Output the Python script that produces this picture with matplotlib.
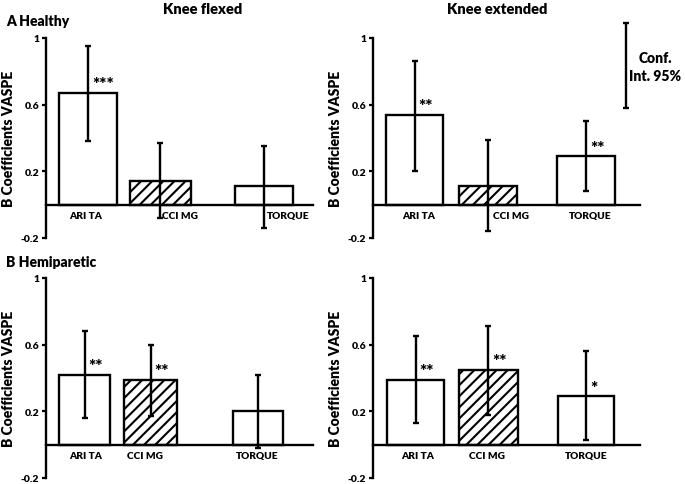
import matplotlib
matplotlib.use("Agg")
import matplotlib.pyplot as plt

plt.rcParams['font.family'] = ['Lato', 'DejaVu Sans']
plt.rcParams['font.weight'] = 'heavy'
plt.rcParams['hatch.linewidth'] = 1.5

categories = ["ARI TA", "CCI MG", "TORQUE"]
hatched = [False, True, False]

# Healthy, knee flexed
hf_val = [0.67, 0.14, 0.11]
hf_lo = [0.38, -0.08, -0.14]
hf_hi = [0.95, 0.37, 0.35]
hf_sig = ["***", "", ""]
# Healthy, knee extended
he_val = [0.54, 0.11, 0.29]
he_lo = [0.20, -0.16, 0.08]
he_hi = [0.86, 0.39, 0.50]
he_sig = ["**", "", "**"]
# Hemiparetic, knee flexed
pf_val = [0.42, 0.39, 0.20]
pf_lo = [0.16, 0.17, -0.02]
pf_hi = [0.68, 0.60, 0.42]
pf_sig = ["**", "**", ""]
# Hemiparetic, knee extended
pe_val = [0.39, 0.45, 0.29]
pe_lo = [0.13, 0.18, 0.03]
pe_hi = [0.65, 0.71, 0.56]
pe_sig = ["**", "**", "*"]

yticks = [-0.2, 0.2, 0.6, 1.0]
ytick_labels = ["-0.2", "0.2", "0.6", "1"]

# layout (x-units, axis spans 0..4)
layouts = [
    dict(rect=[46, 39], centers=[0.63, 1.715, 3.27], width=[0.87, 0.91, 0.87], labx=[0.60, 2.01, 3.63]),
    dict(rect=[373, 39], centers=[0.622, 1.723, 3.19], width=[0.86, 0.87, 0.87], labx=[0.69, 2.07, 3.25]),
    dict(rect=[46, 279], centers=[0.577, 1.566, 3.176], width=[0.77, 0.79, 0.75], labx=[0.60, 1.48, 3.16]),
    dict(rect=[373, 279], centers=[0.637, 1.73, 3.19], width=[0.85, 0.88, 0.84], labx=[0.67, 1.71, 3.19]),
]
panels = [(hf_val, hf_lo, hf_hi, hf_sig), (he_val, he_lo, he_hi, he_sig),
          (pf_val, pf_lo, pf_hi, pf_sig), (pe_val, pe_lo, pe_hi, pe_sig)]

W, H = 685, 485
fig = plt.figure(figsize=(W / 100, H / 100), dpi=100)

axes = []
for (vals, lo, hi, sig), lay in zip(panels, layouts):
    x0, ytop = lay['rect']
    ax = fig.add_axes([x0 / W, 1 - (ytop + 200) / H, 267 / W, 200 / H])
    axes.append(ax)
    for i in range(3):
        ax.bar(lay['centers'][i], vals[i], width=lay['width'][i], color='white',
               edgecolor='black', linewidth=1.7, hatch='///' if hatched[i] else None, zorder=2)
        ax.errorbar(lay['centers'][i], vals[i],
                    yerr=[[vals[i] - lo[i]], [hi[i] - vals[i]]],
                    fmt='none', ecolor='black', elinewidth=1.7, capsize=2.5,
                    capthick=1.7, zorder=3)
        if sig[i]:
            ax.text(lay['centers'][i] + 0.06, vals[i] + 0.022, sig[i], ha='left',
                    va='baseline', fontsize=12.5, fontweight='heavy')
        ax.text(lay['labx'][i], -0.066, categories[i], ha='center', va='center',
                fontsize=7.3, fontweight='heavy')
    ax.set_xlim(0, 4)
    ax.set_ylim(-0.2, 1.0)
    ax.set_yticks(yticks)
    ax.set_yticklabels(ytick_labels, fontsize=7.5, fontweight='heavy')
    ax.tick_params(axis='y', length=3, width=1.6, pad=2)
    ax.set_xticks([])
    for s in ['top', 'right']:
        ax.spines[s].set_visible(False)
    ax.spines['left'].set_linewidth(1.7)
    ax.spines['bottom'].set_position(('data', 0))
    ax.spines['bottom'].set_linewidth(1.7)
    ax.set_ylabel("B Coefficients VASPE", fontsize=10, fontweight='heavy', labelpad=4)
    ax.patch.set_alpha(0)

# Column titles and row labels
fig.text(203 / W, 1 - 10 / H, "Knee flexed", ha='center', va='center', fontsize=10.5, fontweight='heavy')
fig.text(497 / W, 1 - 10 / H, "Knee extended", ha='center', va='center', fontsize=10.5, fontweight='heavy')
fig.text(6 / W, 1 - 21 / H, "A Healthy", ha='left', va='center', fontsize=10, fontweight='heavy')
fig.text(6 / W, 1 - 263 / H, "B Hemiparetic", ha='left', va='center', fontsize=10, fontweight='heavy')

# Confidence interval legend
ax = axes[1]
ax.errorbar([3.79], [0.835], yerr=[[0.255], [0.255]], fmt='none', ecolor='black',
            elinewidth=1.7, capsize=2.5, capthick=1.7, clip_on=False)
ax.text(4.23, 0.83, "Conf.\nInt. 95%", ha='center', va='center', fontsize=10,
        fontweight='heavy', linespacing=1.5, clip_on=False)

fig.savefig("out.png", dpi=100)
